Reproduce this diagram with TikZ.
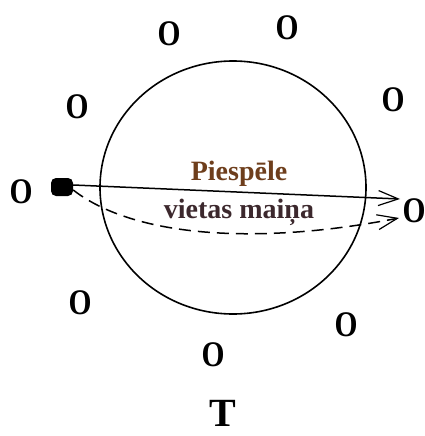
\documentclass[tikz,border=0pt]{standalone}
\usepackage{fontspec}
\usepackage{graphicx}
\setmainfont{Liberation Serif}
\usetikzlibrary{arrows.meta}
\definecolor{txtA}{RGB}{110,62,28}
\definecolor{txtB}{RGB}{60,40,45}
\newcommand{\plr}{\scalebox{0.82}[1]{O}}
\tikzset{
  player/.style={font=\fontsize{36}{36}\selectfont\bfseries, inner sep=0pt, anchor=center},
  lbl/.style={font=\fontsize{28}{28}\selectfont\bfseries, inner sep=0pt, anchor=base},
  move/.style={line width=1.5pt, -{Straight Barb[length=20pt,width=15pt,line width=1.2pt]}},
  dmove/.style={move, dash pattern=on 12pt off 7pt}
}
\begin{document}
\begin{tikzpicture}[x=1pt,y=-1pt]
\useasboundingbox (0,0) rectangle (424,436);
% field circle
\draw[line width=1.6pt] (233,187.5) ellipse [x radius=133pt, y radius=126.5pt];
% players
\node[player] (o1) at (169,34) {\plr};
\node[player] (o2) at (287,28) {\plr};
\node[player] (o3) at (77,107) {\plr};
\node[player] (o4) at (393,100) {\plr};
\node[player] (o5) at (21,192) {\plr};
\node[player] (o6) at (414,211) {\plr};
\node[player] (o7) at (80,303) {\plr};
\node[player] (o8) at (213,355) {\plr};
\node[player] (o9) at (346,325) {\plr};
% ball holder
\node[fill=black, rounded corners=5pt, minimum width=22pt, minimum height=18pt, inner sep=0pt] (p) at (62,187) {};
% labels
\node[lbl, text=txtA] (l1) at (239,180) {Piespēle};
\node[lbl, text=txtB] (l2) at (239,218) {vietas maiņa};
\node[font=\fontsize{40}{40}\selectfont\bfseries, inner sep=0pt, anchor=base] (t) at (223,426) {T};
% arrows
\coordinate (t1) at (400,199);
\coordinate (t2) at (399,218);
\draw[move] ([yshift=2pt]p.east) -- (t1);
\draw[dmove] ([yshift=-3pt]p.east) .. controls (135,238) and (260,245) .. (t2);
\end{tikzpicture}
\end{document}
